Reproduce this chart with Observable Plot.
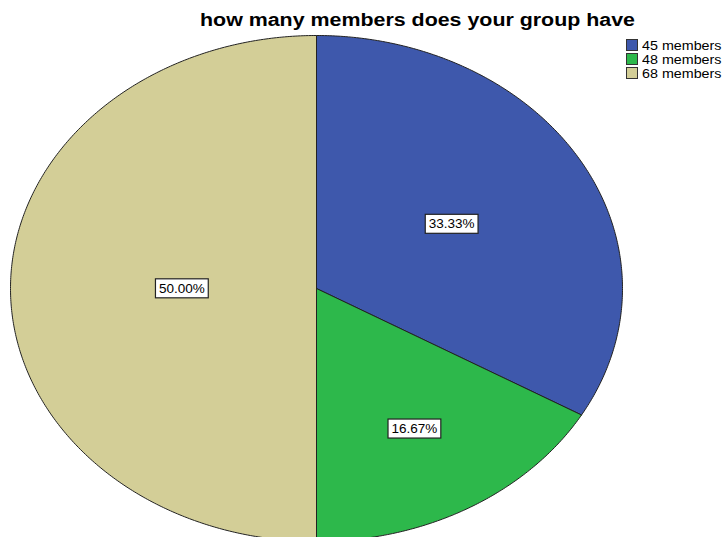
<!DOCTYPE html>
<html>
<head>
<meta charset="utf-8">
<script src="https://cdn.jsdelivr.net/npm/d3@7"></script>
<script src="https://cdn.jsdelivr.net/npm/@observablehq/plot@0.6"></script>
<style>
  html, body { margin: 0; padding: 0; background: #fff; overflow: hidden; }
  #wrap { position: relative; width: 724px; height: 537px; overflow: hidden; }
  #title { position: absolute; left: 200px; top: 8px; transform-origin: 0 0;
    font: bold 18px "Liberation Sans", Arial, sans-serif; color: #000; white-space: nowrap; line-height: 24px; }
  #legend { position: absolute; left: 626px; top: 38px; font: 13px "Liberation Sans", Arial, sans-serif; color: #000; }
  .li { display: flex; align-items: center; height: 14px; white-space: nowrap; }
  .sw { width: 10px; height: 10px; border: 1px solid #333; margin-right: 4px; flex: none; }
  .lt { display: inline-block; transform: scaleX(1.1); transform-origin: 0 50%; }
  #chart { position: absolute; left: 0; top: 0; }
</style>
</head>
<body>
<div id="wrap">
  <div id="chart"></div>
  <div id="title">how many members does your group have</div>
  <div id="legend"></div>
</div>
<script>
const categories = ["45 members", "48 members", "68 members"];
const counts = [2, 1, 3];
const percentLabels = ["33.33%", "16.67%", "50.00%"];
const colors = ["#3e58ac", "#2db84b", "#d3ce97"];
const labelRadius = [0.51, 0.64, 0.44];

const pie = d3.pie().sort(null).value(d => d)(counts);

// slice outlines in unit-circle coordinates (angle clockwise from top)
const pts = [];
pie.forEach((s, i) => {
  const a0 = s.startAngle, a1 = s.endAngle;
  const n = Math.max(2, Math.ceil((a1 - a0) / (Math.PI / 360)));
  pts.push({cat: categories[i], x: 0, y: 0});
  for (let k = 0; k <= n; k++) {
    const a = a0 + (a1 - a0) * k / n;
    pts.push({cat: categories[i], x: Math.sin(a), y: Math.cos(a)});
  }
  pts.push({cat: categories[i], x: 0, y: 0});
});

const labels = pie.map((s, i) => {
  const m = (s.startAngle + s.endAngle) / 2;
  return {text: percentLabels[i], x: labelRadius[i] * Math.sin(m), y: labelRadius[i] * Math.cos(m)};
});

const chart = Plot.plot({
  width: 724,
  height: 537,
  margin: 0,
  x: {domain: [-1, 1], range: [10, 622], axis: null},
  y: {domain: [-1, 1], range: [541, 35], axis: null},
  color: {domain: categories, range: colors},
  marks: [
    Plot.line(pts, {x: "x", y: "y", z: "cat", fill: "cat", stroke: "#222", strokeWidth: 1, curve: "linear"}),
    Plot.text(labels, {x: "x", y: "y", text: "text", fontSize: 13.5, fill: "#000",
      fontFamily: "Liberation Sans, Arial, sans-serif", className: "pct"})
  ]
});
chart.style.overflow = "hidden";
document.getElementById("chart").appendChild(chart);

// white boxes behind percentage labels
chart.querySelectorAll(".pct text").forEach(t => {
  const b = t.getBBox();
  const r = document.createElementNS("http://www.w3.org/2000/svg", "rect");
  r.setAttribute("x", b.x - 3.5);
  r.setAttribute("y", b.y - 2);
  r.setAttribute("width", b.width + 7);
  r.setAttribute("height", b.height + 4);
  r.setAttribute("fill", "#fff");
  r.setAttribute("stroke", "#222");
  r.setAttribute("stroke-width", 1.2);
  const tr = t.getAttribute("transform");
  if (tr) r.setAttribute("transform", tr);
  t.parentNode.insertBefore(r, t);
});

// stretch title to reference width
const title = document.getElementById("title");
const tw = title.getBoundingClientRect().width;
title.style.transform = `scaleX(${435 / tw})`;

const lg = document.getElementById("legend");
categories.forEach((c, i) => {
  const row = document.createElement("div");
  row.className = "li";
  row.innerHTML = `<span class="sw" style="background:${colors[i]}"></span><span class="lt">${c}</span>`;
  lg.appendChild(row);
});
</script>
</body>
</html>
